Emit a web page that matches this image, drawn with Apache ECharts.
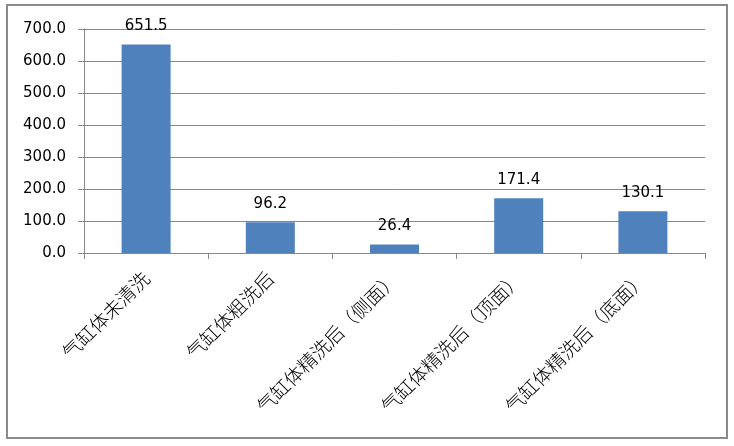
<!DOCTYPE html>
<html><head><meta charset="utf-8">
<script src="https://cdn.jsdelivr.net/npm/echarts@6/dist/echarts.min.js"></script>
<style>html,body{margin:0;padding:0;background:#fff}#c{width:734px;height:446px}</style>
</head><body><div id="c"></div>
<script>
const categories = ['气缸体未清洗','气缸体粗洗后','气缸体精洗后（侧面）','气缸体精洗后（顶面）','气缸体精洗后（底面）'];
const values = [651.5, 96.2, 26.4, 171.4, 130.1];
const yTicks = [0,100,200,300,400,500,600,700];

const chart = echarts.init(document.getElementById('c'));
chart.setOption({
  animation:false,
  backgroundColor:'#fff',
  graphic:[{type:'rect',shape:{x:7,y:5,width:720,height:433},style:{fill:'none',stroke:'#8a8a8a',lineWidth:2},z:-1}],
  grid:{left:84,right:29,top:29,bottom:193,containLabel:false},
  xAxis:{type:'category',data:categories,
    axisLine:{lineStyle:{color:'#888',width:1}},
    axisTick:{show:true,length:6,alignWithLabel:false,lineStyle:{color:'#888'}},
    axisLabel:{rotate:45,interval:0,margin:22,color:'#000',fontFamily:'Noto Sans CJK SC',fontSize:19,fontWeight:300}
  },
  yAxis:{type:'value',min:yTicks[0],max:yTicks[yTicks.length-1],interval:100,
    axisLine:{show:true,lineStyle:{color:'#888'}},
    axisTick:{show:true,length:6,lineStyle:{color:'#888'}},
    splitLine:{lineStyle:{color:'#888',width:1}},
    axisLabel:{margin:18,color:'#000',fontFamily:'DejaVu Sans',fontSize:15,formatter:v=>v.toFixed(1)}
  },
  series:[{type:'bar',data:values,barWidth:49,
    itemStyle:{color:'#4F81BD'},
    label:{show:true,position:'top',distance:11,color:'#000',fontFamily:'DejaVu Sans',fontSize:15,formatter:p=>p.value.toFixed(1)}
  }]
});
</script></body></html>
